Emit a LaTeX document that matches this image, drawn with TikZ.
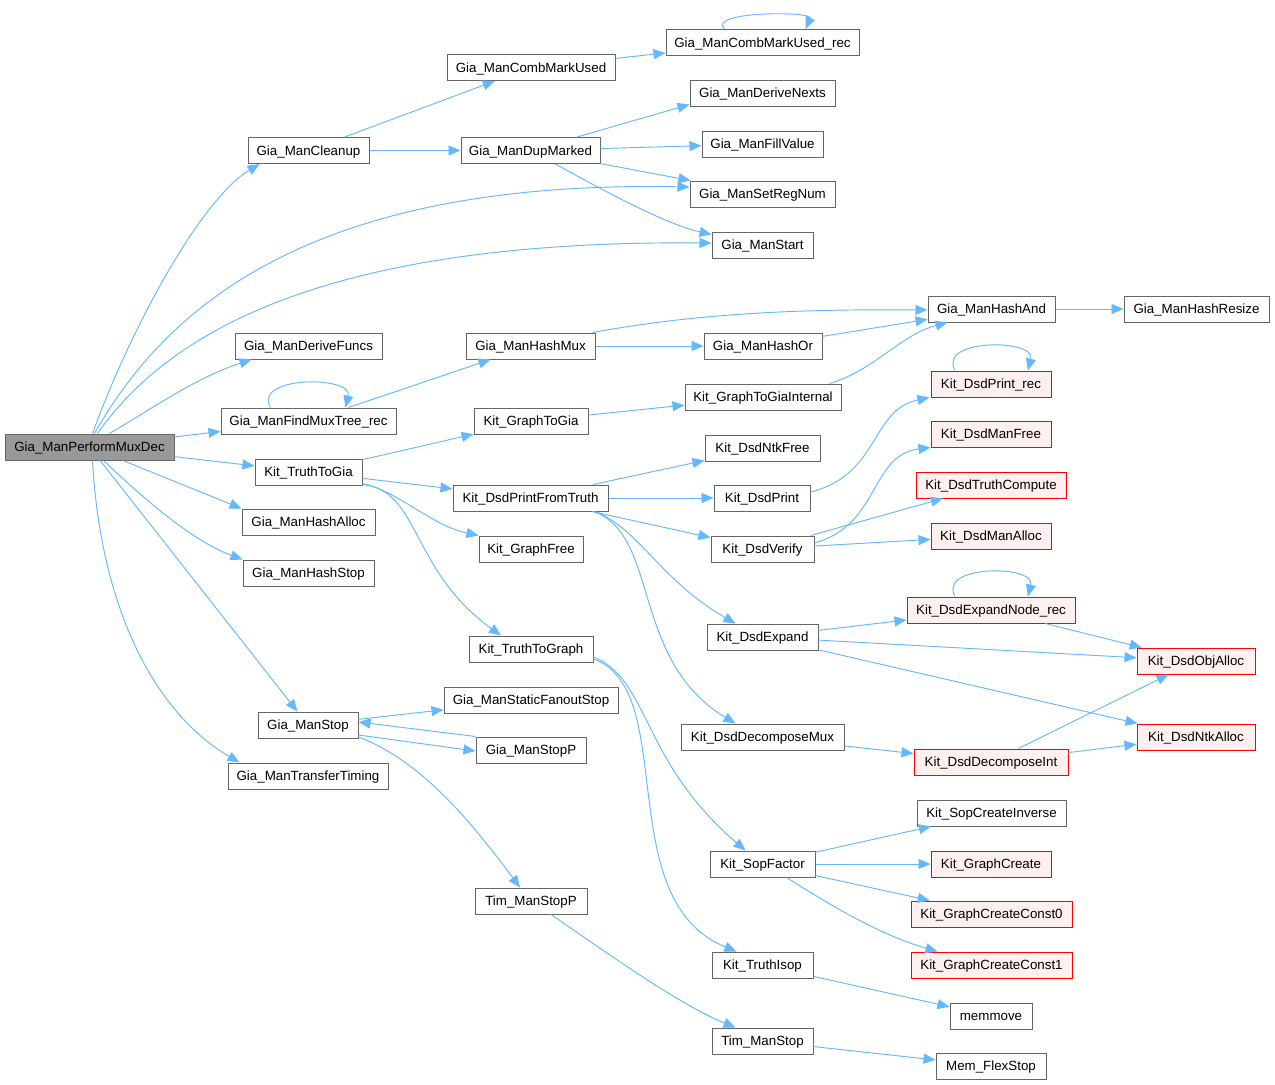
\documentclass[tikz,border=0pt]{standalone}
\usepackage{fontspec}
\setmainfont{Liberation Sans}
\usetikzlibrary{arrows.meta,calc}
\definecolor{edgec}{HTML}{63B8FF}
\definecolor{boxc}{HTML}{666666}
\definecolor{mainc}{HTML}{999999}
\definecolor{redfill}{HTML}{FFF0F0}
\definecolor{redline}{HTML}{FF0000}
\begin{document}
\begin{tikzpicture}[x=0.75pt,y=-0.75pt,
  fn/.style={draw=boxc, fill=white, line width=0.75pt, minimum height=19.5pt, inner sep=0pt, text height=7pt, text depth=0pt, font=\fontsize{10}{12}\selectfont, text=black},
  fr/.style={fn, draw=redline, fill=redfill},
  mainbox/.style={fn, fill=mainc},
  bw/.style={minimum width=#1*0.75pt},
  cg/.style={draw=edgec, line width=0.7pt, -{Triangle[length=9pt,width=7.5pt]}}]
\fill[white] (0,0) rectangle (1275,1085);
\useasboundingbox (0,0) rectangle (1275,1085);

% nodes
\node[mainbox,bw=169] (pm) at (89.5,447) {Gia\_ManPerformMuxDec};
\node[fn,bw=121] (cl) at (308.5,150.5) {Gia\_ManCleanup};
\node[fn,bw=168] (cmu) at (531,67.5) {Gia\_ManCombMarkUsed};
\node[fn,bw=193] (cmr) at (762.5,42.5) {Gia\_ManCombMarkUsed\_rec};
\node[fn,bw=139] (dm) at (530.5,150.5) {Gia\_ManDupMarked};
\node[fn,bw=145] (dn) at (762.5,93) {Gia\_ManDeriveNexts};
\node[fn,bw=121] (fv) at (762.5,144) {Gia\_ManFillValue};
\node[fn,bw=145] (srn) at (762.5,194) {Gia\_ManSetRegNum};
\node[fn,bw=101] (st) at (762.5,245) {Gia\_ManStart};
\node[fn,bw=127] (han) at (991.5,309) {Gia\_ManHashAnd};
\node[fn,bw=145] (hr) at (1196.5,309) {Gia\_ManHashResize};
\node[fn,bw=147] (df) at (308.5,346) {Gia\_ManDeriveFuncs};
\node[fn,bw=129] (hm) at (530.5,346) {Gia\_ManHashMux};
\node[fn,bw=118] (ho) at (763,346) {Gia\_ManHashOr};
\node[fn,bw=175] (fmt) at (308.5,421) {Gia\_ManFindMuxTree\_rec};
\node[fn,bw=114] (gtg) at (531,421) {Kit\_GraphToGia};
\node[fn,bw=156] (gti) at (763,397) {Kit\_GraphToGiaInternal};
\node[fr,bw=120] (dpr) at (991,384) {Kit\_DsdPrint\_rec};
\node[fr,bw=120] (dmf) at (991,434) {Kit\_DsdManFree};
\node[fr,bw=150] (dtc) at (991,485) {Kit\_DsdTruthCompute};
\node[fr,bw=120] (dma) at (991,536) {Kit\_DsdManAlloc};
\node[fn,bw=107] (ttg) at (308.5,472) {Kit\_TruthToGia};
\node[fn,bw=115] (dnf) at (762.5,448) {Kit\_DsdNtkFree};
\node[fn,bw=155] (dpft) at (530.5,498) {Kit\_DsdPrintFromTruth};
\node[fn,bw=96] (dp) at (762,498) {Kit\_DsdPrint};
\node[fn,bw=103] (dv) at (762.5,549) {Kit\_DsdVerify};
\node[fn,bw=133] (ha) at (308.5,522) {Gia\_ManHashAlloc};
\node[fn,bw=131] (hs) at (308.5,573) {Gia\_ManHashStop};
\node[fn,bw=104] (gf) at (531,549) {Kit\_GraphFree};
\node[fr,bw=168] (enr) at (991,610) {Kit\_DsdExpandNode\_rec};
\node[fn,bw=111] (de) at (762.5,637) {Kit\_DsdExpand};
\node[fr,bw=118] (oa) at (1196,661) {Kit\_DsdObjAlloc};
\node[fn,bw=124] (ttgr) at (531,649) {Kit\_TruthToGraph};
\node[fn,bw=174] (sfs) at (531,700) {Gia\_ManStaticFanoutStop};
\node[fn,bw=100] (gs) at (308,725) {Gia\_ManStop};
\node[fn,bw=163] (ddm) at (762.5,737) {Kit\_DsdDecomposeMux};
\node[fr,bw=118] (na) at (1196,737) {Kit\_DsdNtkAlloc};
\node[fr,bw=154] (di) at (991,762) {Kit\_DsdDecomposeInt};
\node[fn,bw=110] (sp) at (531,750) {Gia\_ManStopP};
\node[fn,bw=160] (tt) at (308,776) {Gia\_ManTransferTiming};
\node[fn,bw=149] (sci) at (991.5,813) {Kit\_SopCreateInverse};
\node[fn,bw=105] (sf) at (762.5,864) {Kit\_SopFactor};
\node[fr,bw=120] (gc) at (991,864) {Kit\_GraphCreate};
\node[fn,bw=112] (tsp) at (531,901) {Tim\_ManStopP};
\node[fr,bw=161] (c0) at (991.5,914) {Kit\_GraphCreateConst0};
\node[fr,bw=161] (c1) at (991.5,965) {Kit\_GraphCreateConst1};
\node[fn,bw=101] (ti) at (762.5,965) {Kit\_TruthIsop};
\node[fn,bw=82] (mm) at (991,1016) {memmove};
\node[fn,bw=101] (tms) at (762.5,1041) {Tim\_ManStop};
\node[fn,bw=110] (mfs) at (991,1066) {Mem\_FlexStop};

% edges from Gia_ManPerformMuxDec
\draw[cg] ($(pm.north)+(3,0)$) .. controls (130,330) and (200,200) .. ($(cl.south west)+(12,0)$);
\draw[cg] ($(pm.north)+(5,0)$) .. controls (170,300) and (320,180) .. ($(srn.west)+(0,-7)$);
\draw[cg] ($(pm.north)+(8,0)$) .. controls (170,330) and (330,240) .. ($(st.west)+(0,-2)$);
\draw[cg] ($(pm.north)+(20,0)$) .. controls (150,410) and (195,378) .. ($(df.south west)+(17,0)$);
\draw[cg] (pm) -- (fmt);
\draw[cg] (pm) -- (ttg);
\draw[cg] (pm) -- (ha.north west);
\draw[cg] ($(pm.south)+(14,0)$) .. controls (140,495) and (190,540) .. (hs.north west);
\draw[cg] (pm) -- (gs);
\draw[cg] ($(pm.south)+(3,0)$) .. controls (100,600) and (150,710) .. ($(tt.north west)+(12,0)$);

% cleanup branch
\draw[cg] (cl) -- (cmu);
\draw[cg] (cl) -- (dm);
\draw[cg] (cmu) -- (cmr);
\draw[cg] ($(cmr.north)+(-38,0)$) .. controls +(-18,-18) and +(8,-18) .. ($(cmr.north)+(43,0)$);
\draw[cg] (dm) -- ($(dn.south west)+(0,-2)$);
\draw[cg] (dm) -- (fv);
\draw[cg] (dm) -- (srn);
\draw[cg] ($(dm.south)+(25,0)$) .. controls (620,200) and (670,225) .. ($(st.north west)+(0,3)$);

% hash branch
\draw[cg] ($(fmt.north)+(-38,0)$) .. controls +(-18,-32) and +(8,-32) .. ($(fmt.north)+(37,0)$);
\draw[cg] (fmt) -- (hm);
\draw[cg] ($(hm.north east)+(-3,0)$) .. controls (700,313) and (800,309) .. ($(han.west)+(0,1)$);
\draw[cg] (hm) -- (ho);
\draw[cg] (ho) -- (han);
\draw[cg] ($(gti.north east)+(-12,0)$) .. controls (875,370) and (900,335) .. ($(han.south west)+(20,0)$);
\draw[cg] (han) -- (hr);

% truth to gia
\draw[cg] (ttg) -- (gtg);
\draw[cg] (gtg) -- (gti);
\draw[cg] (ttg) -- (dpft);
\draw[cg] ($(ttg.south east)+(0,-2)$) .. controls (400,492) and (430,525) .. (gf.north west);
\draw[cg] ($(ttg.south east)+(0,-1)$) .. controls (420,490) and (410,570) .. ($(ttgr.north)+(-30,0)$);

% dsd
\draw[cg] (dpft) -- (dnf);
\draw[cg] (dpft) -- (dp);
\draw[cg] (dpft) -- (dv);
\draw[cg] ($(dpft.south east)+(-13,0)$) .. controls (640,530) and (660,580) .. ($(de.north)+(-27,0)$);
\draw[cg] ($(dpft.south east)+(-15,0)$) .. controls (660,535) and (630,660) .. ($(ddm.north)+(-27,0)$);
\draw[cg] ($(dp.east)+(0,-6)$) .. controls (880,475) and (870,410) .. ($(dpr.south west)+(-1,0)$);
\draw[cg] ($(dpr.north)+(-36,0)$) .. controls +(-18,-32) and +(8,-32) .. ($(dpr.north)+(37,0)$);
\draw[cg] ($(dv.east)+(0,-6)$) .. controls (880,525) and (870,455) .. (dmf.south west);
\draw[cg] (dv) -- (dtc);
\draw[cg] (dv) -- (dma);
\draw[cg] (de) -- (enr);
\draw[cg] (de) -- (oa);
\draw[cg] (de) -- (na);
\draw[cg] ($(enr.north)+(-36,0)$) .. controls +(-18,-32) and +(8,-32) .. ($(enr.north)+(37,0)$);
\draw[cg] (enr) -- (oa);
\draw[cg] (ddm) -- (di);
\draw[cg] (di) -- (oa);
\draw[cg] (di) -- (na);

% truth to graph
\draw[cg] ($(ttgr.east)+(0,8)$) .. controls (650,680) and (640,760) .. ($(sf.north)+(-17,0)$);
\draw[cg] ($(ttgr.east)+(0,10)$) .. controls (680,690) and (610,900) .. ($(ti.north)+(-26,0)$);
\draw[cg] (sf) -- (sci);
\draw[cg] (sf) -- (gc);
\draw[cg] (sf) -- (c0);
\draw[cg] ($(sf.south)+(24,0)$) .. controls (830,905) and (880,935) .. ($(c1.north west)+(27,0)$);
\draw[cg] (ti) -- (mm);

% stop branch
\draw[cg] (gs) -- (sfs);
\draw[cg] ($(gs.east)+(0,10)$) -- ($(sp.west)+(0,1)$);
\draw[cg] (sp.north west) -- ($(gs.east)+(0,-3)$);
\draw[cg] ($(gs.east)+(0,12)$) .. controls (420,760) and (470,820) .. ($(tsp.north)+(-11,0)$);
\draw[cg] ($(tsp.south)+(20,0)$) .. controls (610,955) and (680,1005) .. ($(tms.north west)+(24,0)$);
\draw[cg] (tms) -- (mfs);
\end{tikzpicture}
\end{document}
